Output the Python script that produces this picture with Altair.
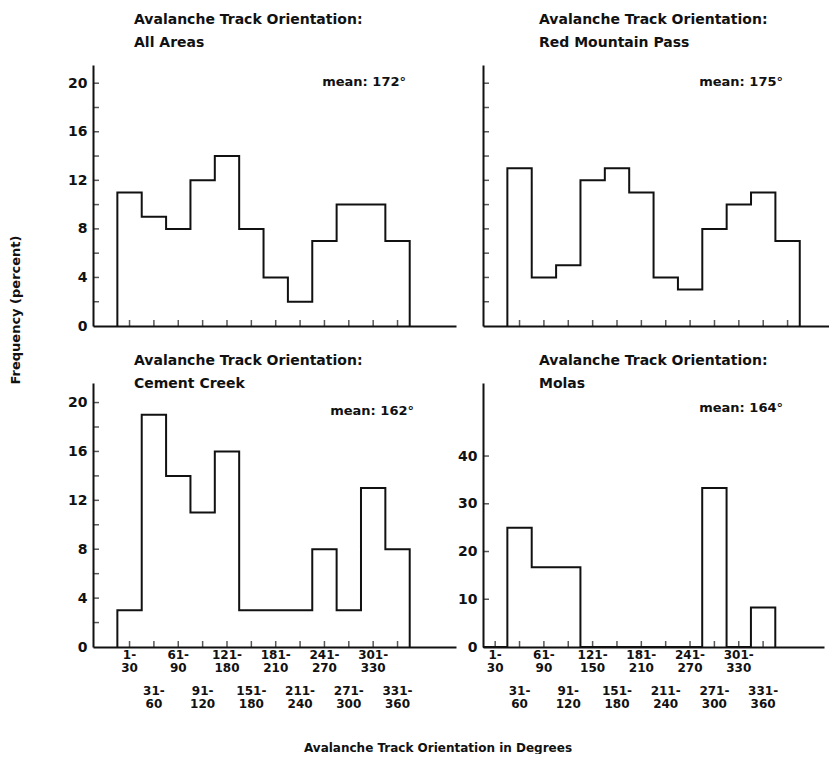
import altair as alt
import pandas as pd

FONT = "DejaVu Sans"
INK = "#111111"

# ---- data -------------------------------------------------------------
bin_starts = [0, 30, 60, 90, 120, 150, 180, 210, 240, 270, 300, 330]
bin_centers = [15, 45, 75, 105, 135, 165, 195, 225, 255, 285, 315, 345]

all_areas = [11, 9, 8, 12, 14, 8, 4, 2, 7, 10, 10, 7]
red_mountain = [13, 4, 5, 12, 13, 11, 4, 3, 8, 10, 11, 7]
cement_creek = [3, 19, 14, 11, 16, 3, 3, 3, 8, 3, 13, 8]
molas = [0, 25, 16.7, 16.7, 0, 0, 0, 0, 0, 33.3, 0, 8.3]

title_main = "Avalanche Track Orientation:"
subtitles = ["All Areas", "Red Mountain Pass", "Cement Creek", "Molas"]
means = ["mean: 172°", "mean: 175°", "mean: 162°", "mean: 164°"]

row1_centers = [15, 75, 135, 195, 255, 315]
row2_centers = [45, 105, 165, 225, 285, 345]
row1_labels_cc = ["1-\n30", "61-\n90", "121-\n180", "181-\n210", "241-\n270", "301-\n330"]
row1_labels_mo = ["1-\n30", "61-\n90", "121-\n150", "181-\n210", "241-\n270", "301-\n330"]
row2_labels = ["31-\n60", "91-\n120", "151-\n180", "211-\n240", "271-\n300", "331-\n360"]

small_ticks = [2, 4, 6, 8, 10, 12, 14, 16, 18, 20]
small_labels = [0, 4, 8, 12, 16, 20]
molas_ticks = [10, 20, 30, 40]
molas_labels = [0, 10, 20, 30, 40]


def outline_df(vals):
    xs = [0] + bin_starts + [360]
    ys = [0] + list(vals) + [0]
    return pd.DataFrame({"x": xs, "y": ys, "i": list(range(len(xs)))})


def panel(vals, subtitle, mean, xdom, ydom, w, h, ylab_vals, ytick_vals,
          show_ylabels, title_pos, mean_pos, xlabels=None, extra=None):
    xs = alt.Scale(domain=xdom, nice=False, zero=False)
    ys = alt.Scale(domain=ydom, nice=False, zero=False)
    yaxis = alt.Axis(values=ylab_vals, labels=show_ylabels, ticks=False,
                     title=None, grid=False, labelPadding=6)
    xaxis = alt.Axis(labels=False, ticks=False, title=None, grid=False)

    line = alt.Chart(outline_df(vals)).mark_line(
        interpolate="step-after", color=INK, strokeWidth=2
    ).encode(
        x=alt.X("x:Q", scale=xs, axis=xaxis),
        y=alt.Y("y:Q", scale=ys, axis=yaxis),
        order="i:Q",
    )
    xt = alt.Chart(pd.DataFrame({"c": bin_centers})).mark_tick(
        orient="vertical", size=6, thickness=1.5, color=INK
    ).encode(x=alt.X("c:Q", scale=xs, axis=xaxis), y=alt.value(h - 3))
    yt = alt.Chart(pd.DataFrame({"v": ytick_vals})).mark_tick(
        orient="horizontal", size=6, thickness=1.5, color=INK
    ).encode(y=alt.Y("v:Q", scale=ys, axis=yaxis), x=alt.value(3))
    ttl = alt.Chart(pd.DataFrame({"t": [title_main + "\n" + subtitle]})).mark_text(
        align="left", baseline="top", lineBreak="\n", lineHeight=23,
        fontSize=14, fontWeight="bold", font=FONT, color=INK
    ).encode(text="t:N", x=alt.value(title_pos[0]), y=alt.value(title_pos[1]))
    mn = alt.Chart(pd.DataFrame({"t": [mean]})).mark_text(
        align="right", baseline="middle", fontSize=13, fontWeight="bold",
        font=FONT, color=INK
    ).encode(text="t:N", x=alt.value(mean_pos[0]), y=alt.value(mean_pos[1]))

    layers = [line, xt, yt, ttl, mn]
    if xlabels is not None:
        r1 = alt.Chart(pd.DataFrame({"c": row1_centers, "t": xlabels})).mark_text(
            align="center", baseline="top", lineBreak="\n", lineHeight=13,
            fontSize=12, fontWeight="bold", font=FONT, color=INK
        ).encode(x=alt.X("c:Q", scale=xs, axis=xaxis), y=alt.value(h + 3), text="t:N")
        r2 = alt.Chart(pd.DataFrame({"c": row2_centers, "t": row2_labels})).mark_text(
            align="center", baseline="top", lineBreak="\n", lineHeight=13,
            fontSize=12, fontWeight="bold", font=FONT, color=INK
        ).encode(x=alt.X("c:Q", scale=xs, axis=xaxis), y=alt.value(h + 39), text="t:N")
        layers += [r1, r2]
    if extra:
        layers += extra
    return alt.layer(*layers).properties(width=w, height=h)


H_TOP = 261
H_BOT = 264

ytitle = alt.Chart(pd.DataFrame({"t": ["Frequency  (percent)"]})).mark_text(
    angle=270, align="center", baseline="middle", fontSize=13,
    fontWeight="bold", font=FONT, color=INK
).encode(text="t:N", x=alt.value(-77), y=alt.value(245))

xtitle = alt.Chart(pd.DataFrame({"t": ["Avalanche Track Orientation in Degrees"]})).mark_text(
    align="center", baseline="middle", fontSize=12, fontWeight="bold",
    font=FONT, color=INK
).encode(text="t:N", x=alt.value(345), y=alt.value(H_BOT + 101))

tl = panel(all_areas, subtitles[0], means[0], [-30, 417], [0, 21.5], 363, H_TOP,
           small_labels, small_ticks, True, (41, -52), (313, 17), extra=[ytitle])
tr = panel(red_mountain, subtitles[1], means[1], [-30, 396], [0, 21.5], 346, H_TOP,
           small_labels, small_ticks, False, (56, -52), (300, 17))
bl = panel(cement_creek, subtitles[2], means[2], [-30, 417], [0, 21.6], 363, H_BOT,
           small_labels, small_ticks, True, (41, -29), (321, 28),
           xlabels=row1_labels_cc, extra=[xtitle])
br = panel(molas, subtitles[3], means[3], [0, 420], [0, 55.3], 341, H_BOT,
           molas_labels, molas_ticks, True, (56, -29), (300, 25),
           xlabels=row1_labels_mo)

chart = alt.concat(
    tl, tr, bl, br, columns=2,
    spacing={"row": 57, "column": 27}, bounds="flush",
).properties(
    padding={"left": 2, "top": 5, "right": 0, "bottom": 0},
    background="white",
).configure_axis(
    labelFont=FONT, labelFontSize=14, labelFontWeight="bold", labelColor=INK,
    domainColor=INK, domainWidth=2, grid=False,
).configure_view(stroke=None)

chart.save("out.html", embed_options={"renderer": "svg", "actions": False})
